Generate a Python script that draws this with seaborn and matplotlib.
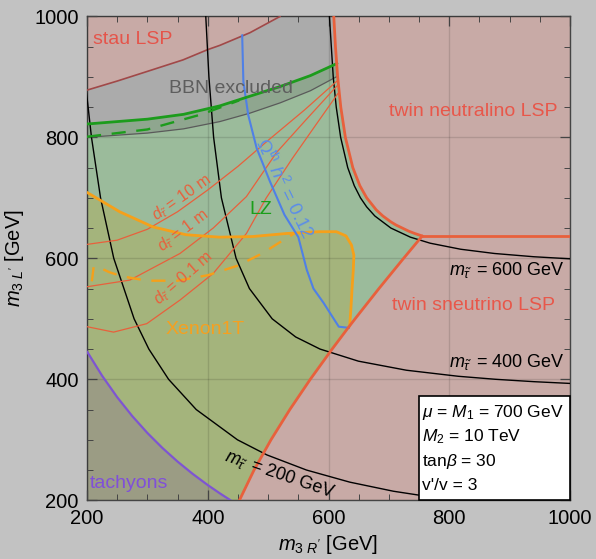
import matplotlib
matplotlib.use("Agg")
import matplotlib.pyplot as plt
import seaborn as sns
from matplotlib.patches import Rectangle
from matplotlib.ticker import MultipleLocator

# ---------------- data (GeV) ----------------
stau_lsp_x = [200, 250, 300, 359, 400, 420, 470, 520]
stau_lsp_y = [878, 893, 909, 928, 945, 952, 973, 1000]

bbn_low_x = [200, 300, 360, 420, 470, 520, 570, 615]
bbn_low_y = [800, 807, 814, 826, 840, 857, 877, 901]

lz_x = [200, 300, 360, 420, 470, 520, 570, 614]
lz_y = [822, 830, 838, 852, 868, 884, 902, 922]

lz_dash_x = [200, 300, 390, 452]
lz_dash_y = [801, 813, 838, 861]

# twin neutralino LSP boundary (from top down to the corner)
neut_x = [608.7, 611.5, 615.1, 620.3, 627.9, 640.2, 651.9, 663.2, 679.1, 689.9, 703.6, 711.9, 732.6, 742.9, 755.2]
neut_y = [1000, 950, 900, 850, 800, 750, 720, 700, 680, 670, 660, 655, 645, 641, 636.9]
neut_flat_x = [755.2, 1000]
neut_flat_y = [636.9, 636.9]

# twin sneutrino LSP boundary (from bottom up to the corner)
snu_x = [452.4, 476.6, 504.7, 535.9, 569.8, 606.0, 633.9, 644.0, 683.5, 724.4, 755.2]
snu_y = [200, 250, 300, 350, 400, 450, 487, 500, 550, 600, 636.9]

# tachyon boundary
tach_x = [200, 225, 250, 275, 300, 325, 350, 375, 400, 420, 437.8]
tach_y = [446.0, 405.9, 370.4, 339.1, 311.3, 286.4, 264.0, 243.7, 225.2, 211.5, 200]

# m_stau' contours
m200_x = [188.7, 198.9, 207.4, 222.4, 244.3, 278.0, 302.4, 335.1, 380.9, 449.2, 498.0, 563.6, 635.3, 707.5, 805.7]
m200_y = [1000, 876, 800, 700, 600, 500, 450, 400, 350, 300, 275, 250, 230, 215, 200]
m400_x = [396.7, 401.9, 409.7, 422.6, 446.9, 469.0, 506.7, 545.6, 585.9, 649.5, 729.1, 815.0, 877.0, 940, 1000]
m400_y = [1000, 900, 800, 700, 600, 550, 500, 470, 450, 430, 415, 405, 400, 396.1, 393.2]
m600_x = [601.5, 607.8, 612.8, 620.1, 631.8, 642.7, 652.9, 663.2, 676.7, 703.3, 735.5, 768.3, 818.9, 874.7, 940, 1000]
m600_y = [1000, 900, 850, 800, 750, 720, 700, 685, 670, 650, 635, 625, 615, 608, 602.6, 599.2]

# decay-length contours
d10_x = [200, 250, 300, 350, 400, 450, 500, 560, 614]
d10_y = [623, 630, 648, 677, 713, 752, 795, 845, 893]
d1_x = [200, 271, 354, 409, 464, 514, 560, 614]
d1_y = [553, 564, 608, 650, 702, 775, 826, 885]
d01_x = [200, 244, 299, 354, 409, 464, 497, 540, 580, 616]
d01_y = [487, 478, 492, 531, 575, 641, 700, 765, 822, 873]

# relic abundance curve
omega_x = [457, 459, 467, 481, 503, 527, 550, 564, 575, 592, 617, 634]
omega_y = [969, 892, 837, 782, 727, 672, 635, 581, 550, 526, 487, 485]

# Xenon1T
xe_x = [200, 254, 309, 364, 419, 474, 530, 585, 613, 629, 638, 642, 641, 639, 637, 635]
xe_y = [709, 677, 652, 639, 635, 636, 641, 644, 644, 637, 622, 605, 580, 550, 515, 488]
xe_dash_x = [208, 211, 222, 237, 259, 300, 350, 400, 450, 490, 525, 545]
xe_dash_y = [562, 586, 584, 577, 570, 563, 563, 572, 588, 608, 630, 642]

ticks = [200, 400, 600, 800, 1000]
info_lines = [r"$\mu$ = $M_1$ = 700 GeV", r"$M_2$ = 10 TeV", r"tan$\beta$ = 30", "v'/v = 3"]

# ---------------- style ----------------
sns.set_theme(style="ticks")
plt.rcParams["font.family"] = ["Liberation Sans", "DejaVu Sans"]
plt.rcParams["mathtext.fontset"] = "custom"
plt.rcParams["mathtext.rm"] = "Liberation Sans"
plt.rcParams["mathtext.it"] = "Liberation Sans:italic"
plt.rcParams["mathtext.bf"] = "Liberation Sans:bold"
plt.rcParams["mathtext.sf"] = "Liberation Sans"

FIG_BG = "#c2c2c2"
GREEN_F = "#9bbb9b"
BAND_F = "#8fa68f"
GRAY_F = "#ababab"
PINK_F = "#c8aaa6"
OLIVE_F = "#a4b47c"
TACH_F = "#9b9c84"
RED = "#e8603c"

fig, ax = plt.subplots(figsize=(5.96, 5.59), dpi=100)
fig.patch.set_facecolor(FIG_BG)
fig.subplots_adjust(left=0.146, right=0.9564, bottom=0.105, top=0.9708)
ax.set_facecolor(GRAY_F)

# ---------------- regions ----------------
ax.fill([200] + lz_x + [1000, 1000], [200] + lz_y + [922, 200], color=GREEN_F, lw=0, zorder=1)
ax.fill(bbn_low_x + lz_x[::-1], bbn_low_y + lz_y[::-1], color=BAND_F, lw=0, zorder=1.1)
ax.fill(xe_x + snu_x[:6][::-1] + [200], xe_y + snu_y[:6][::-1] + [200], color=OLIVE_F, lw=0, zorder=1.2)
ax.fill(tach_x + [200], tach_y + [200], color=TACH_F, lw=0, zorder=1.3)
ax.fill(stau_lsp_x + [200], stau_lsp_y + [1000], color=PINK_F, lw=0, zorder=1.4)
ax.fill(neut_x + snu_x[::-1] + [1000, 1000], neut_y + snu_y[::-1] + [200, 1000], color=PINK_F, lw=0, zorder=1.4)

# grid
ax.grid(True, which="major", color="black", alpha=0.12, lw=1.0)
ax.set_axisbelow(False)


def line(x, y, color, lw, z=3):
    sns.lineplot(x=x, y=y, sort=False, estimator=None, ax=ax, color=color, linewidth=lw, zorder=z)


line(stau_lsp_x, stau_lsp_y, "#a14848", 1.2)
line(bbn_low_x, bbn_low_y, "#5a5a5a", 0.9)
line(m200_x, m200_y, "black", 1.0)
line(m400_x, m400_y, "black", 1.0)
line(m600_x, m600_y, "black", 1.0)
line(d10_x, d10_y, RED, 0.9)
line(d1_x, d1_y, RED, 0.9)
line(d01_x, d01_y, RED, 0.9)
line(tach_x, tach_y, "#7e55d2", 1.6)
line(xe_x, xe_y, "#f5a01a", 2.0, 4)
ax.plot(xe_dash_x, xe_dash_y, color="#f5a01a", lw=1.7, dashes=[6, 4.5], zorder=4)
line(omega_x, omega_y, "#4f80e6", 1.5, 4)
line(lz_x, lz_y, "#1c9c1c", 2.0, 4)
ax.plot(lz_dash_x, lz_dash_y, color="#1c9c1c", lw=1.7, dashes=[6, 4.5], zorder=4)
line(neut_x, neut_y, RED, 2.0, 5)
line(neut_flat_x, neut_flat_y, RED, 2.0, 5)
line(snu_x, snu_y, RED, 2.0, 5)

# ---------------- labels in the plane ----------------
ax.text(276, 962, "stau LSP", color="#e5544a", fontsize=14, ha="center", va="center", zorder=6)
ax.text(439, 881, "BBN excluded", color="#5e5e5e", fontsize=14, ha="center", va="center", zorder=6)
ax.text(840, 843, "twin neutralino LSP", color="#e8574a", fontsize=14, ha="center", va="center", zorder=6)
ax.text(840, 522, "twin sneutrino LSP", color="#e8574a", fontsize=14, ha="center", va="center", zorder=6)
ax.text(487, 681, "LZ", color="#1a9e1a", fontsize=14, ha="center", va="center", zorder=6)
ax.text(396, 483, "Xenon1T", color="#f5a020", fontsize=14, ha="center", va="center", zorder=6)
ax.text(270, 227, "tachyons", color="#8050d8", fontsize=14, ha="center", va="center", zorder=6)
ax.text(527, 716, r"$\Omega^{\mathrm{th}}\ h^2$ = 0.12", color="#5b8de8", fontsize=13.5,
        rotation=-64, ha="center", va="center", rotation_mode="anchor", zorder=6)
ax.text(357, 700, r"$d_{\tilde{\tau}}$ = 10 m", color=RED, fontsize=11.5, rotation=35,
        ha="center", va="center", rotation_mode="anchor", zorder=6)
ax.text(359, 646, r"$d_{\tilde{\tau}}$ = 1 m", color=RED, fontsize=11.5, rotation=37,
        ha="center", va="center", rotation_mode="anchor", zorder=6)
ax.text(359, 567, r"$d_{\tilde{\tau}}$ = 0.1 m", color=RED, fontsize=11.5, rotation=41,
        ha="center", va="center", rotation_mode="anchor", zorder=6)
ax.text(895, 580, r"$m_{\tilde{\tau}'}$ = 600 GeV", color="black", fontsize=13, ha="center", va="center", zorder=6)
ax.text(895, 428, r"$m_{\tilde{\tau}'}$ = 400 GeV", color="black", fontsize=13, ha="center", va="center", zorder=6)
ax.text(520, 243, r"$m_{\tilde{\tau}'}$ = 200 GeV", color="black", fontsize=13, rotation=-19,
        ha="center", va="center", rotation_mode="anchor", zorder=6)

# parameter box
ax.add_patch(Rectangle((0.687, 0.0), 0.313, 0.215, transform=ax.transAxes, facecolor="white",
                       edgecolor="black", lw=1.2, zorder=9, clip_on=False))
for i, s in enumerate(info_lines):
    ax.text(0.694, 0.182 - i * 0.0505, s, transform=ax.transAxes, fontsize=12.5, color="black",
            ha="left", va="center", zorder=10)

# ---------------- axes ----------------
ax.set_xlim(200, 1000)
ax.set_ylim(200, 1000)
ax.set_xticks(ticks)
ax.set_yticks(ticks)
ax.xaxis.set_minor_locator(MultipleLocator(50))
ax.yaxis.set_minor_locator(MultipleLocator(50))
ax.tick_params(which="both", direction="in", top=True, right=True, color="#444444",
               labelcolor="black", labelsize=14.5)
ax.tick_params(which="major", length=7, width=0.9, pad=6)
ax.tick_params(which="minor", length=4, width=0.7)
for sp in ax.spines.values():
    sp.set_color("#444444")
    sp.set_linewidth(1.0)
ax.set_xlabel(r"$m_{3\ R'}$ [GeV]", fontsize=14.5, color="black", labelpad=4)
ax.set_ylabel(r"$m_{3\ L'}$ [GeV]", fontsize=14.5, color="black", labelpad=6)

fig.savefig("out.png", dpi=100, facecolor=FIG_BG)
